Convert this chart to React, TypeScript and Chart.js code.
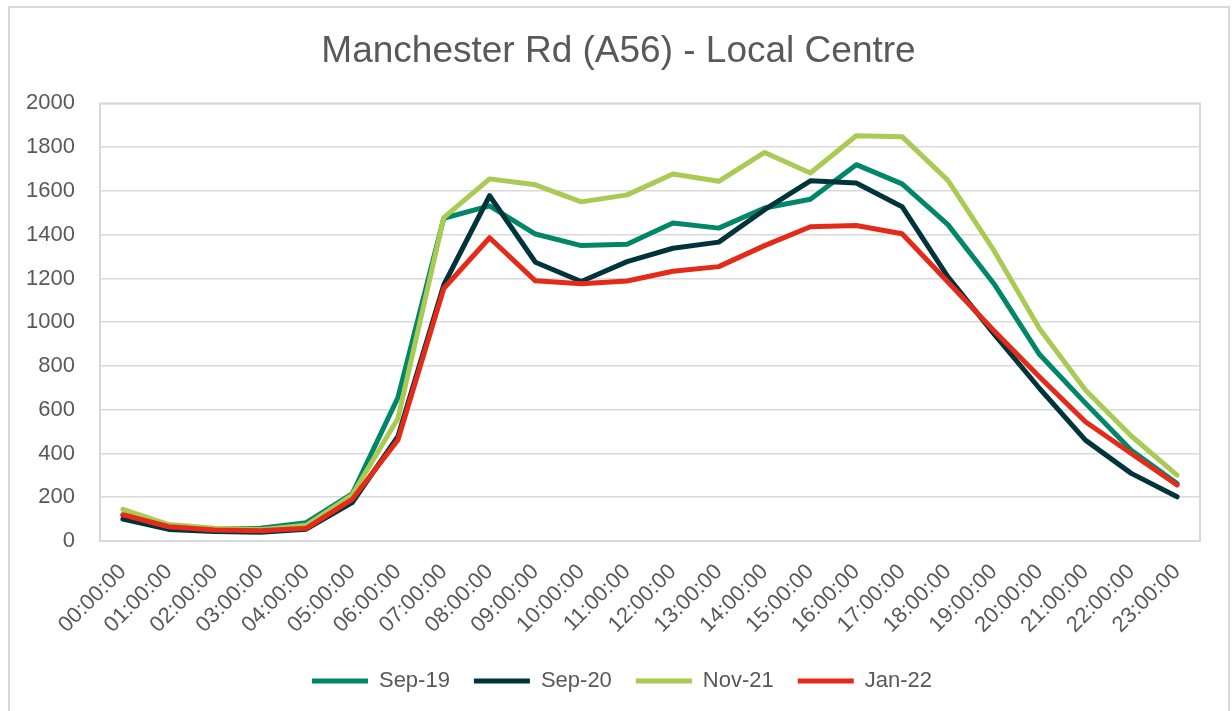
import React, { useEffect, useRef } from "react";
import { Chart, registerables } from "chart.js";

Chart.register(...registerables);

const chartTitle = "Manchester Rd (A56) - Local Centre";

const hours = [
  "00:00:00", "01:00:00", "02:00:00", "03:00:00", "04:00:00", "05:00:00",
  "06:00:00", "07:00:00", "08:00:00", "09:00:00", "10:00:00", "11:00:00",
  "12:00:00", "13:00:00", "14:00:00", "15:00:00", "16:00:00", "17:00:00",
  "18:00:00", "19:00:00", "20:00:00", "21:00:00", "22:00:00", "23:00:00",
];

const sep19 = [118, 65, 55, 58, 84, 215, 655, 1475, 1532, 1403, 1350, 1356, 1453, 1430, 1522, 1562, 1720, 1632, 1446, 1177, 852, 630, 415, 263];
const sep20 = [100, 53, 43, 40, 54, 175, 478, 1170, 1578, 1274, 1186, 1277, 1338, 1366, 1514, 1646, 1636, 1528, 1207, 948, 697, 461, 309, 202];
const nov21 = [145, 75, 58, 52, 72, 210, 560, 1478, 1655, 1628, 1550, 1582, 1677, 1644, 1776, 1682, 1852, 1848, 1648, 1329, 970, 690, 480, 301];
const jan22 = [120, 65, 50, 47, 58, 190, 462, 1154, 1386, 1189, 1176, 1188, 1233, 1254, 1350, 1436, 1442, 1404, 1184, 962, 750, 545, 400, 256];

const seriesNames = ["Sep-19", "Sep-20", "Nov-21", "Jan-22"];
const seriesColors = ["#00876A", "#00343C", "#A9CA54", "#E42A19"];

const yMin = 0;
const yMax = 2000;
const yStep = 200;

const FONT = "'Liberation Sans', Arial, sans-serif";
const TEXT = "#595959";
const GRID = "#D9D9D9";

const framePlugin = {
  id: "framePlugin",
  afterLayout(chart: any) {
    // centre the title and legend over the outer frame, as in the source
    if (chart.titleBlock) {
      chart.titleBlock.left = 8;
      chart.titleBlock.right = 1229;
    }
    if (chart.legend) {
      chart.legend.left = 44;
      chart.legend.right = 1200;
    }
  },
  beforeDatasetsDraw(chart: any) {
    const { ctx, chartArea } = chart;
    ctx.save();
    ctx.strokeStyle = GRID;
    ctx.lineWidth = 2;
    ctx.strokeRect(chartArea.left, chartArea.top, chartArea.right - chartArea.left, chartArea.bottom - chartArea.top);
    ctx.restore();
  },
};

export default function App() {
  const canvasRef = useRef<HTMLCanvasElement | null>(null);

  useEffect(() => {
    const canvas = canvasRef.current;
    if (!canvas) return;
    const allSeries = [sep19, sep20, nov21, jan22];
    const chart = new Chart(canvas, {
      type: "line",
      data: {
        labels: hours,
        datasets: allSeries.map((vals, i) => ({
          label: seriesNames[i],
          data: vals,
          borderColor: seriesColors[i],
          backgroundColor: seriesColors[i],
          borderWidth: 5,
          pointRadius: 0,
          pointHoverRadius: 0,
          tension: 0,
          fill: false,
          borderCapStyle: "round" as const,
          borderJoinStyle: "round" as const,
          order: allSeries.length - i,
        })),
      },
      options: {
        responsive: false,
        animation: false,
        devicePixelRatio: 1,
        layout: { padding: { left: 12, right: 32, top: 0, bottom: 9 } },
        plugins: {
          title: {
            display: true,
            text: chartTitle,
            color: TEXT,
            font: { family: FONT, size: 37, weight: "normal" as const, lineHeight: 1.2 },
            padding: { top: 30, bottom: 29 },
          },
          legend: {
            display: true,
            position: "bottom",
            labels: {
              color: TEXT,
              font: { family: FONT, size: 22 },
              boxWidth: 56,
              boxHeight: 5,
              padding: 24,
              sort: (a: any, b: any) => a.datasetIndex - b.datasetIndex,
              generateLabels: (ch: any) =>
                ch.data.datasets.map((ds: any, i: number) => ({
                  text: ds.label,
                  fillStyle: seriesColors[i],
                  strokeStyle: seriesColors[i],
                  lineWidth: 0,
                  fontColor: TEXT,
                  hidden: false,
                  datasetIndex: i,
                })),
            },
          },
          tooltip: { enabled: false },
        },
        scales: {
          x: {
            offset: true,
            grid: { display: false, drawTicks: false, offset: true },
            border: { display: false },
            ticks: {
              color: TEXT,
              font: { family: FONT, size: 22 },
              maxRotation: 45,
              minRotation: 45,
              padding: 18,
              autoSkip: false,
            },
            afterFit: (scale: any) => {
              scale.height = 105;
            },
          },
          y: {
            min: yMin,
            max: yMax,
            grid: { color: GRID, lineWidth: 1.5, drawTicks: false },
            border: { display: false },
            ticks: {
              stepSize: yStep,
              color: TEXT,
              font: { family: FONT, size: 22 },
              padding: 25,
              callback: (value: any) => String(value),
            },
            afterFit: (scale: any) => {
              scale.width = 88;
            },
          },
        },
      },
      plugins: [framePlugin],
    });
    return () => chart.destroy();
  }, []);

  return (
    <>
      <div
        style={{
          position: "fixed",
          left: 8,
          top: 6,
          width: 1222,
          height: 760,
          border: "2px solid #D9D9D9",
          boxSizing: "border-box",
          background: "#fff",
        }}
      />
      <canvas
        ref={canvasRef}
        width={1232}
        height={711}
        style={{ position: "fixed", left: 0, top: 0, width: 1232, height: 711 }}
      />
    </>
  );
}
